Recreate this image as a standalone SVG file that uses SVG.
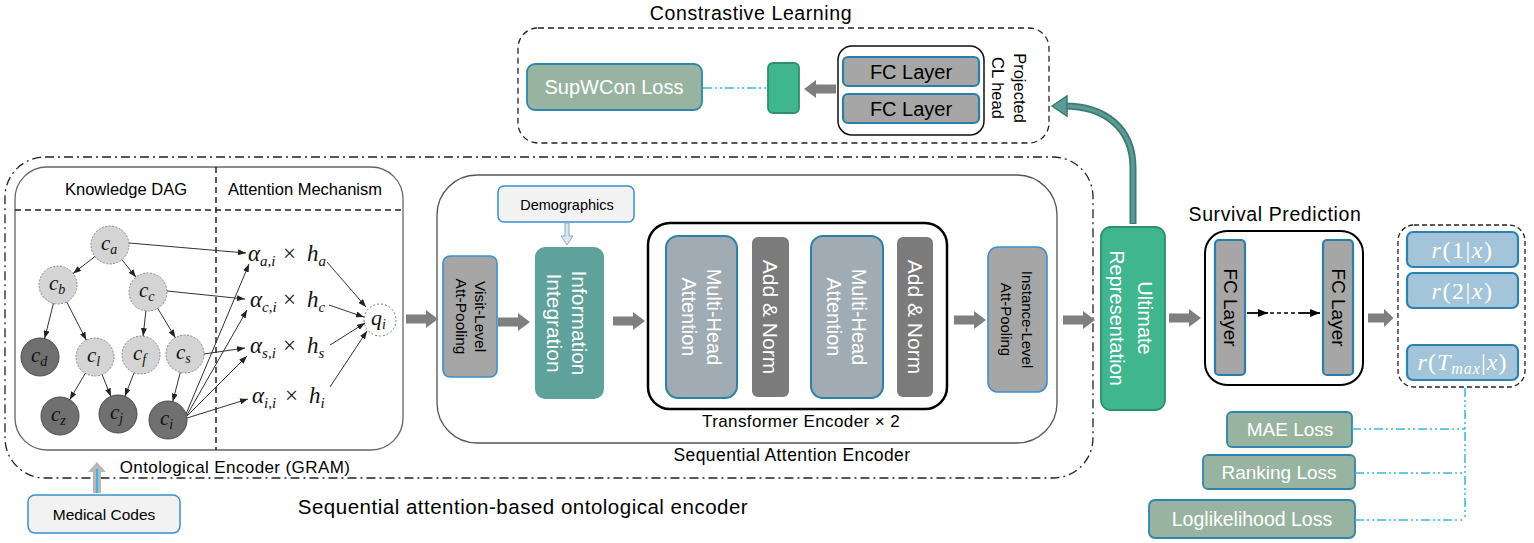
<svg xmlns="http://www.w3.org/2000/svg" width="1534" height="543" viewBox="0 0 1534 543">
<style>
.t{font-family:"Liberation Sans",Arial,sans-serif;fill:#000}
.w{fill:#fff}
.m{font-family:"Liberation Serif","Times New Roman",serif;font-style:italic;fill:#111}
.mu{font-family:"Liberation Serif","Times New Roman",serif;fill:#111}
.grey{fill:#a6a6a6;stroke:#3b8fd0;stroke-width:1.6}
.fc{fill:#a6a6a6;stroke:#2a7faa;stroke-width:2.2}
.loss{fill:#98b4a0;stroke:#2e86b0;stroke-width:1.8}
.mha{fill:#a1abb3;stroke:#2a82aa;stroke-width:2}
.an{fill:#7b7b7b}
.rb{fill:#a3c4d9;stroke:#2a82b0;stroke-width:2.2}
.inp{fill:#f2f2f2;stroke:#3a8fd0;stroke-width:1.5}
.light{fill:#d4d4d4;stroke:#888;stroke-width:1;stroke-dasharray:2,1.5}
.dark{fill:#707070;stroke:#4a4a4a;stroke-width:1}
.e{stroke:#333;stroke-width:1;fill:none;marker-end:url(#ah)}
.bl{stroke:#3ab5e6;stroke-width:1.5;fill:none;stroke-dasharray:9,3,2,3,2,3}
</style>
<defs>
<marker id="ah" viewBox="0 0 8 6" refX="8" refY="3" markerWidth="8" markerHeight="6" markerUnits="userSpaceOnUse" orient="auto"><path d="M0,0 L8,3 L0,6 Z" fill="#222"/></marker>
<marker id="ah2" viewBox="0 0 10 8" refX="10" refY="4" markerWidth="10" markerHeight="8" markerUnits="userSpaceOnUse" orient="auto"><path d="M0,0 L10,4 L0,8 Z" fill="#000"/></marker>
<path id="ga" d="M0,-4.5 L20,-4.5 L20,-9 L32,0 L20,9 L20,4.5 L0,4.5 Z" fill="#7f7f7f"/>
</defs>
<rect width="1534" height="543" fill="#fff"/>

<!-- Contrastive learning container -->
<g id="contrastive-learning">
<rect x="518" y="28" width="531" height="115" rx="20" fill="none" stroke="#222" stroke-width="1.3" stroke-dasharray="6,4"/>
<text class="t" x="751" y="20" text-anchor="middle" font-size="19.5" letter-spacing="0.6">Constrastive Learning</text>
</g>
<g id="supwcon-loss">
<rect class="loss" x="527" y="64" width="175" height="46" rx="8"/>
<text class="t w" x="614" y="94" text-anchor="middle" font-size="20">SupWCon Loss</text>
</g>
<g id="cl-embedding">
<rect x="768" y="63" width="31" height="50" rx="5" fill="#3fb68e" stroke="#2d8f6e" stroke-width="1.8"/>
</g>
<g id="projection-head">
<rect x="838" y="46" width="146" height="89" rx="14" fill="none" stroke="#111" stroke-width="1.5"/>
<rect class="fc" x="843" y="57" width="136" height="29" rx="5"/>
<text class="t" x="911" y="79" text-anchor="middle" font-size="20">FC Layer</text>
<rect class="fc" x="843" y="94" width="136" height="29" rx="5"/>
<text class="t" x="911" y="116" text-anchor="middle" font-size="20">FC Layer</text>
<g transform="translate(1009,88) rotate(90)">
<text class="t" x="0" y="-11" text-anchor="middle" dominant-baseline="central" font-size="16.5">Projected</text>
<text class="t" x="0" y="11" text-anchor="middle" dominant-baseline="central" font-size="16.5">CL head</text>
</g>
</g>

<!-- Outer sequential attention-based ontological encoder -->
<g id="outer-encoder">
<rect x="5" y="157" width="1088" height="321" rx="40" fill="none" stroke="#222" stroke-width="1.3" stroke-dasharray="9,4,2,4"/>
<text class="t" x="523" y="514" text-anchor="middle" font-size="20.5" letter-spacing="0.5">Sequential attention-based ontological encoder</text>
</g>

<!-- GRAM -->
<g id="gram">
<rect x="15" y="167" width="388" height="283" rx="32" fill="none" stroke="#666" stroke-width="1.3"/>
<line x1="15" y1="210" x2="403" y2="210" stroke="#222" stroke-width="1.5" stroke-dasharray="6,4"/>
<line x1="216" y1="167" x2="216" y2="450" stroke="#222" stroke-width="1.5" stroke-dasharray="6,4"/>
<text class="t" x="126" y="195" text-anchor="middle" font-size="16.5">Knowledge DAG</text>
<text class="t" x="305" y="195" text-anchor="middle" font-size="16.5">Attention Mechanism</text>
<text class="t" x="235" y="473" text-anchor="middle" font-size="17" letter-spacing="0.4">Ontological Encoder (GRAM)</text>
</g>

<g id="node-ca"><circle class="light" cx="110" cy="245" r="19"/><text class="m" x="101" y="250" font-size="21">c<tspan dy="4" font-size="14">a</tspan></text></g>
<g id="node-cb"><circle class="light" cx="58" cy="285" r="19"/><text class="m" x="49" y="290" font-size="21">c<tspan dy="4" font-size="14">b</tspan></text></g>
<g id="node-cc"><circle class="light" cx="148" cy="292" r="19"/><text class="m" x="139" y="297" font-size="21">c<tspan dy="4" font-size="14">c</tspan></text></g>
<g id="node-cd"><circle class="dark" cx="40" cy="357" r="19"/><text class="m" x="31" y="362" font-size="21">c<tspan dy="4" font-size="14">d</tspan></text></g>
<g id="node-cl"><circle class="light" cx="95" cy="357" r="19"/><text class="m" x="87" y="362" font-size="21">c<tspan dy="4" font-size="14">l</tspan></text></g>
<g id="node-cf"><circle class="light" cx="141" cy="355" r="19"/><text class="m" x="133" y="360" font-size="21">c<tspan dy="4" font-size="14">f</tspan></text></g>
<g id="node-cs"><circle class="light" cx="185" cy="354" r="19"/><text class="m" x="176" y="359" font-size="21">c<tspan dy="4" font-size="14">s</tspan></text></g>
<g id="node-cz"><circle class="dark" cx="60" cy="416" r="19"/><text class="m" x="51" y="421" font-size="21">c<tspan dy="4" font-size="14">z</tspan></text></g>
<g id="node-cj"><circle class="dark" cx="118" cy="414" r="19"/><text class="m" x="110" y="419" font-size="21">c<tspan dy="4" font-size="14">j</tspan></text></g>
<g id="node-ci"><circle class="dark" cx="168" cy="420" r="19"/><text class="m" x="160" y="425" font-size="21">c<tspan dy="4" font-size="14">i</tspan></text></g>

<g id="att-a"><text class="m" x="248" y="261" font-size="23">α<tspan dy="5" font-size="15">a,i</tspan><tspan x="283" dy="-5" class="mu" font-style="normal">×</tspan><tspan x="307">h</tspan><tspan dy="5" font-size="15">a</tspan></text></g>
<g id="att-c"><text class="m" x="250" y="307" font-size="23">α<tspan dy="5" font-size="15">c,i</tspan><tspan x="283" dy="-5" class="mu" font-style="normal">×</tspan><tspan x="307">h</tspan><tspan dy="5" font-size="15">c</tspan></text></g>
<g id="att-s"><text class="m" x="250" y="353" font-size="23">α<tspan dy="5" font-size="15">s,i</tspan><tspan x="283" dy="-5" class="mu" font-style="normal">×</tspan><tspan x="307">h</tspan><tspan dy="5" font-size="15">s</tspan></text></g>
<g id="att-i"><text class="m" x="252" y="403" font-size="23">α<tspan dy="5" font-size="15">i,i</tspan><tspan x="285" dy="-5" class="mu" font-style="normal">×</tspan><tspan x="309">h</tspan><tspan dy="5" font-size="15">i</tspan></text></g>
<g id="node-qi"><circle cx="380" cy="320" r="16" fill="#fff" stroke="#777" stroke-width="1" stroke-dasharray="2,2"/><text class="m" x="371" y="325" font-size="22">q<tspan dy="4" font-size="14">i</tspan></text></g>

<g id="medical-codes">
<rect class="inp" x="28" y="495" width="152" height="38" rx="7"/>
<text class="t" x="104" y="520" text-anchor="middle" font-size="15.5">Medical Codes</text>
</g>

<!-- Sequential Attention Encoder -->
<g id="sequential-attention-encoder">
<rect x="437" y="175" width="620" height="268" rx="40" fill="none" stroke="#555" stroke-width="1.3"/>
<text class="t" x="792" y="461" text-anchor="middle" font-size="17.5" letter-spacing="0.4">Sequential Attention Encoder</text>
</g>
<g id="visit-pooling">
<rect class="grey" x="443" y="256" width="54" height="121" rx="7"/>
<g transform="translate(470,316.5) rotate(90)">
<text class="t" x="0" y="-10" text-anchor="middle" dominant-baseline="central" font-size="15.5">Visit-Level</text>
<text class="t" x="0" y="9" text-anchor="middle" dominant-baseline="central" font-size="15.5">Att-Pooling</text>
</g>
</g>
<g id="demographics">
<rect class="inp" x="498" y="186" width="136" height="36" rx="6"/>
<text class="t" x="567" y="210" text-anchor="middle" font-size="14.5">Demographics</text>
</g>
<g id="information-integration">
<rect x="535" y="247" width="69" height="152" rx="10" fill="#5fa19b"/>
<g transform="translate(569.5,323) rotate(90)">
<text class="t w" x="0" y="-10" text-anchor="middle" dominant-baseline="central" font-size="21">Information</text>
<text class="t w" x="0" y="15" text-anchor="middle" dominant-baseline="central" font-size="21">Integration</text>
</g>
</g>
<g id="transformer-encoder">
<rect x="648" y="223" width="299" height="186" rx="22" fill="none" stroke="#000" stroke-width="2.5"/>
<text class="t" x="801" y="427" text-anchor="middle" font-size="17" letter-spacing="0.4">Transformer Encoder × 2</text>
</g>
<g id="mha-1">
<rect class="mha" x="666" y="236" width="71" height="162" rx="12"/>
<g transform="translate(701.5,317) rotate(90)">
<text class="t w" x="0" y="-12" text-anchor="middle" dominant-baseline="central" font-size="20">Multi-Head</text>
<text class="t w" x="0" y="13" text-anchor="middle" dominant-baseline="central" font-size="20">Attention</text>
</g>
</g>
<g id="addnorm-1">
<rect class="an" x="752" y="237" width="37" height="160" rx="6"/>
<text class="t w" transform="translate(770.5,317) rotate(90)" x="0" y="0" text-anchor="middle" dominant-baseline="central" font-size="21">Add &amp; Norm</text>
</g>
<g id="mha-2">
<rect class="mha" x="811" y="236" width="72" height="162" rx="12"/>
<g transform="translate(847,317) rotate(90)">
<text class="t w" x="0" y="-12" text-anchor="middle" dominant-baseline="central" font-size="20">Multi-Head</text>
<text class="t w" x="0" y="13" text-anchor="middle" dominant-baseline="central" font-size="20">Attention</text>
</g>
</g>
<g id="addnorm-2">
<rect class="an" x="897" y="237" width="36" height="160" rx="6"/>
<text class="t w" transform="translate(915,317) rotate(90)" x="0" y="0" text-anchor="middle" dominant-baseline="central" font-size="21">Add &amp; Norm</text>
</g>
<g id="instance-pooling">
<rect class="grey" x="988" y="247" width="59" height="145" rx="10"/>
<g transform="translate(1017.5,319.5) rotate(90)">
<text class="t" x="0" y="-10" text-anchor="middle" dominant-baseline="central" font-size="15">Instance-Level</text>
<text class="t" x="0" y="11" text-anchor="middle" dominant-baseline="central" font-size="15">Att-Pooling</text>
</g>
</g>

<!-- Ultimate representation -->
<g id="ultimate-representation">
<rect x="1101" y="227" width="64" height="183" rx="10" fill="#40b68f" stroke="#2d8f6e" stroke-width="1.8"/>
<g transform="translate(1133,318) rotate(90)">
<text class="t w" x="0" y="-12" text-anchor="middle" dominant-baseline="central" font-size="20">Ultimate</text>
<text class="t w" x="0" y="16" text-anchor="middle" dominant-baseline="central" font-size="20">Representation</text>
</g>
</g>

<!-- Survival prediction -->
<g id="survival-prediction">
<text class="t" x="1275" y="221" text-anchor="middle" font-size="19.5" letter-spacing="0.6">Survival Prediction</text>
<rect x="1205" y="231" width="158" height="154" rx="22" fill="none" stroke="#000" stroke-width="2"/>
</g>
<g id="surv-fc-1">
<rect class="fc" x="1215" y="240" width="30" height="135" rx="4"/>
<text class="t" transform="translate(1230,307.5) rotate(90)" x="0" y="0" text-anchor="middle" dominant-baseline="central" font-size="19">FC Layer</text>
</g>
<g id="surv-fc-2">
<rect class="fc" x="1323" y="240" width="30" height="135" rx="4"/>
<text class="t" transform="translate(1338,307.5) rotate(90)" x="0" y="0" text-anchor="middle" dominant-baseline="central" font-size="19">FC Layer</text>
</g>

<g id="outputs">
<rect x="1398" y="225" width="127" height="162" rx="16" fill="none" stroke="#222" stroke-width="1.3" stroke-dasharray="5,3"/>
<rect class="rb" x="1407" y="232" width="111" height="35" rx="6"/>
<text class="mu" x="1462.5" y="258" text-anchor="middle" font-size="24" letter-spacing="1.5" style="fill:#fff"><tspan font-style="italic">r</tspan>(1|<tspan font-style="italic">x</tspan>)</text>
<rect class="rb" x="1407" y="273" width="111" height="35" rx="6"/>
<text class="mu" x="1462.5" y="299" text-anchor="middle" font-size="24" letter-spacing="1.5" style="fill:#fff"><tspan font-style="italic">r</tspan>(2|<tspan font-style="italic">x</tspan>)</text>
<rect class="rb" x="1407" y="345" width="111" height="35" rx="6"/>
<text class="mu" x="1462.5" y="370" text-anchor="middle" font-size="24" letter-spacing="1" style="fill:#fff"><tspan font-style="italic">r</tspan>(<tspan font-style="italic">T</tspan><tspan font-style="italic" font-size="16" dy="4">max</tspan><tspan dy="-4">|</tspan><tspan font-style="italic">x</tspan>)</text>
</g>

<g id="mae-loss"><rect class="loss" x="1227" y="412" width="125" height="35" rx="5"/><text class="t w" x="1290" y="436" text-anchor="middle" font-size="19">MAE Loss</text></g>
<g id="ranking-loss"><rect class="loss" x="1203" y="455" width="152" height="34" rx="5"/><text class="t w" x="1279" y="479" text-anchor="middle" font-size="19">Ranking Loss</text></g>
<g id="loglikelihood-loss"><rect class="loss" x="1149" y="500" width="206" height="38" rx="6"/><text class="t w" x="1252" y="526" text-anchor="middle" font-size="19.5">Loglikelihood Loss</text></g>

<!-- Connectors -->
<g id="connectors">
<line class="e" x1="94.9" y1="256.6" x2="73.1" y2="273.4"/>
<line class="e" x1="122" y1="259.8" x2="136" y2="277.2"/>
<line class="e" x1="53.4" y1="303.4" x2="44.6" y2="338.6"/>
<line class="e" x1="66.7" y1="301.9" x2="86.3" y2="340.1"/>
<line class="e" x1="145.9" y1="310.9" x2="143.1" y2="336.1"/>
<line class="e" x1="157.7" y1="308.3" x2="175.3" y2="337.7"/>
<line class="e" x1="85.3" y1="373.3" x2="69.7" y2="399.7"/>
<line class="e" x1="102.1" y1="374.6" x2="110.9" y2="396.4"/>
<line class="e" x1="134.1" y1="372.7" x2="124.9" y2="396.3"/>
<line class="e" x1="180.3" y1="372.4" x2="172.7" y2="401.6"/>
<line class="e" x1="129" y1="243" x2="246" y2="253"/>
<line class="e" x1="167" y1="291" x2="245" y2="299"/>
<line class="e" x1="204" y1="354" x2="245" y2="348"/>
<line class="e" x1="186" y1="414" x2="249" y2="264"/>
<line class="e" x1="187" y1="415" x2="247" y2="310"/>
<line class="e" x1="187" y1="416" x2="247" y2="356"/>
<line class="e" x1="187" y1="418" x2="248" y2="399"/>
<line class="e" x1="327" y1="262" x2="366" y2="307"/>
<line class="e" x1="329" y1="305" x2="364" y2="317"/>
<line class="e" x1="330" y1="345" x2="365" y2="323"/>
<line class="e" x1="330" y1="387" x2="367" y2="331"/>
<path d="M93,493 L101,493 L101,472 L106,472 L97,462 L88,472 L93,472 Z" fill="#b8b8b8"/>
<line x1="97" y1="493" x2="97" y2="469" stroke="#3ab5e6" stroke-width="2"/>
<path d="M565,223 L569,223 L569,236 L573,236 L567,245 L561,236 L565,236 Z" fill="#dce6ee" stroke="#88aac4" stroke-width="1"/>
<use href="#ga" transform="translate(406,319)"/>
<use href="#ga" transform="translate(498,322)"/>
<use href="#ga" transform="translate(613,321)"/>
<use href="#ga" transform="translate(954,320)"/>
<use href="#ga" transform="translate(1063,320)"/>
<use href="#ga" transform="translate(1169,318)"/>
<use href="#ga" transform="translate(1368,318) scale(0.8,1)"/>
<use href="#ga" transform="translate(836,89) rotate(180)"/>
<line class="bl" x1="703" y1="88" x2="767" y2="88"/>
<path d="M1133,224 L1133,168 C1133,128 1105,106 1064,106" fill="none" stroke="#3d7a74" stroke-width="7"/>
<path d="M1133,223 L1133,168 C1133,128 1105,106 1064,106" fill="none" stroke="#5a9c94" stroke-width="3.5"/>
<path d="M1052,106 L1067,96 L1067,116 Z" fill="#5a9c94" stroke="#3d7a74" stroke-width="1.5"/>
<line x1="1247" y1="313" x2="1268" y2="313" stroke="#000" stroke-width="1.8" marker-end="url(#ah2)"/>
<line x1="1270" y1="313" x2="1299" y2="313" stroke="#000" stroke-width="1.3" stroke-dasharray="4,3"/>
<line x1="1299" y1="313" x2="1320" y2="313" stroke="#000" stroke-width="1.8" marker-end="url(#ah2)"/>
<line class="bl" x1="1465" y1="388" x2="1465" y2="520"/>
<line class="bl" x1="1352" y1="429" x2="1465" y2="429"/>
<line class="bl" x1="1355" y1="473" x2="1465" y2="473"/>
<line class="bl" x1="1355" y1="520" x2="1465" y2="520"/>
</g>
</svg>
